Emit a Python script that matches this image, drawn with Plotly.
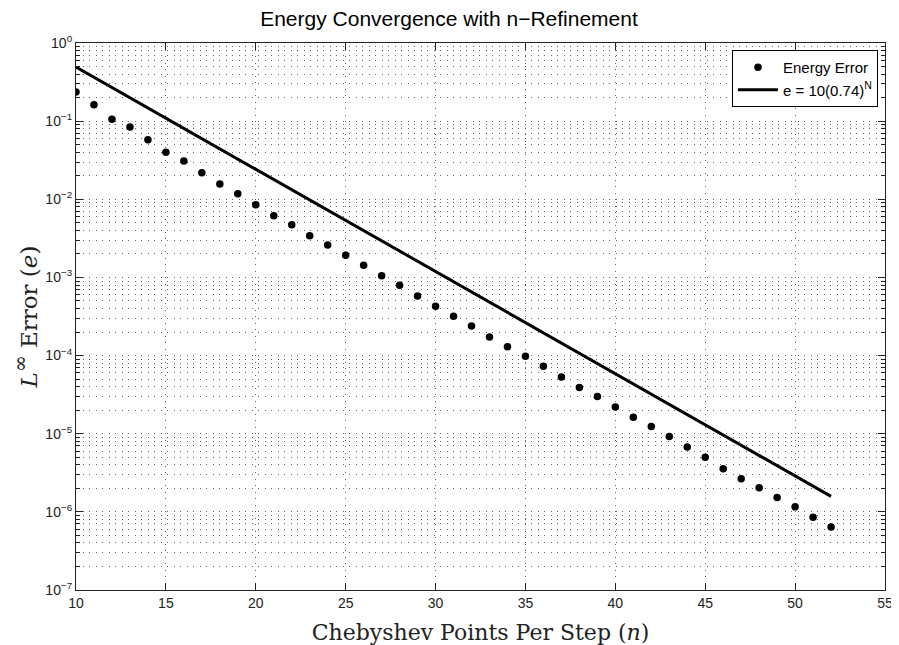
import plotly.graph_objects as go

# ---- data ----
n_points = list(range(10, 53))
energy_error = [
    0.236, 0.162, 0.106, 0.084, 0.058, 0.040, 0.031, 0.0219, 0.0157, 0.0118,
    0.00853, 0.00616, 0.00473, 0.00342, 0.0026, 0.00192, 0.00143, 0.00105,
    0.000794, 0.000578, 0.000427, 0.000318, 0.000239, 0.000173, 0.00013,
    9.8e-5, 7.3e-5, 5.3e-5, 3.9e-5, 3.0e-5, 2.2e-5, 1.63e-5, 1.24e-5, 9.2e-6,
    6.76e-6, 5.0e-6, 3.55e-6, 2.66e-6, 2.03e-6, 1.53e-6, 1.16e-6, 8.5e-7, 6.4e-7,
]
fit_n = [10, 52]
fit_e = [0.492, 1.58e-6]

x_ticks = [10, 15, 20, 25, 30, 35, 40, 45, 50, 55]
y_tickvals = [1e-7, 1e-6, 1e-5, 1e-4, 1e-3, 1e-2, 1e-1, 1e0]
y_ticktext = ["10<sup>−7</sup>", "10<sup>−6</sup>", "10<sup>−5</sup>", "10<sup>−4</sup>",
              "10<sup>−3</sup>", "10<sup>−2</sup>", "10<sup>−1</sup>", "10<sup>0</sup>"]
y_minor = [k * 10.0 ** e for e in range(-7, 0) for k in range(2, 10)]

GRID = dict(showgrid=True, gridcolor="#666", gridwidth=1, griddash="1px,5.5px")

# page body has an 8px margin, so the figure is 8px smaller than the window
W, H = 891, 637

fig = go.Figure()
fig.add_trace(go.Scatter(
    x=n_points, y=energy_error, mode="markers", name="Energy Error",
    marker=dict(color="black", size=7.5),
))
fig.add_trace(go.Scatter(
    x=fit_n, y=fit_e, mode="lines", name="e = 10(0.74)<sup>N</sup>",
    line=dict(color="black", width=3),
))

axis_common = dict(
    showline=True, linecolor="#222", linewidth=1.2, mirror="allticks",
    ticks="inside", ticklen=7, tickcolor="#222",
    zeroline=False, automargin=False,
    **GRID,
)

fig.update_xaxes(
    range=[10, 55], tickvals=x_ticks,
    tickfont=dict(family="Liberation Sans, Arial", size=14, color="#222"),
    title=dict(text="Chebyshev Points Per Step (<i>n</i>)",
               font=dict(family="DejaVu Serif", size=22, color="#222"), standoff=14),
    **axis_common,
)
fig.update_yaxes(
    type="log", range=[-7, 0], tickvals=y_tickvals, ticktext=y_ticktext,
    tickfont=dict(family="Liberation Sans, Arial", size=14, color="#222"),
    minor=dict(tickvals=y_minor, ticks="inside", ticklen=3.5, tickcolor="#222", **GRID),
    title=dict(text="<i>L</i><sup><span style='font-size:20px'>∞</span></sup> Error (<i>e</i>)",
               font=dict(family="DejaVu Serif", size=23, color="#222"), standoff=12),
    **axis_common,
)

fig.update_layout(
    width=W, height=H,
    margin=dict(l=68, r=14, t=35, b=55),
    plot_bgcolor="white", paper_bgcolor="white",
    title=dict(text="Energy Convergence with n−Refinement", x=441 / W,
               xanchor="center", y=1 - 11 / H, yref="container", yanchor="middle",
               font=dict(family="Liberation Sans, Arial", size=21, color="black")),
    legend=dict(x=0.9913, y=0.987, xanchor="right", yanchor="top",
                bgcolor="white", bordercolor="black", borderwidth=1,
                itemwidth=40, tracegroupgap=0,
                font=dict(family="Liberation Sans, Arial", size=15, color="black")),
    showlegend=True,
)

fig.write_html("out.html")
